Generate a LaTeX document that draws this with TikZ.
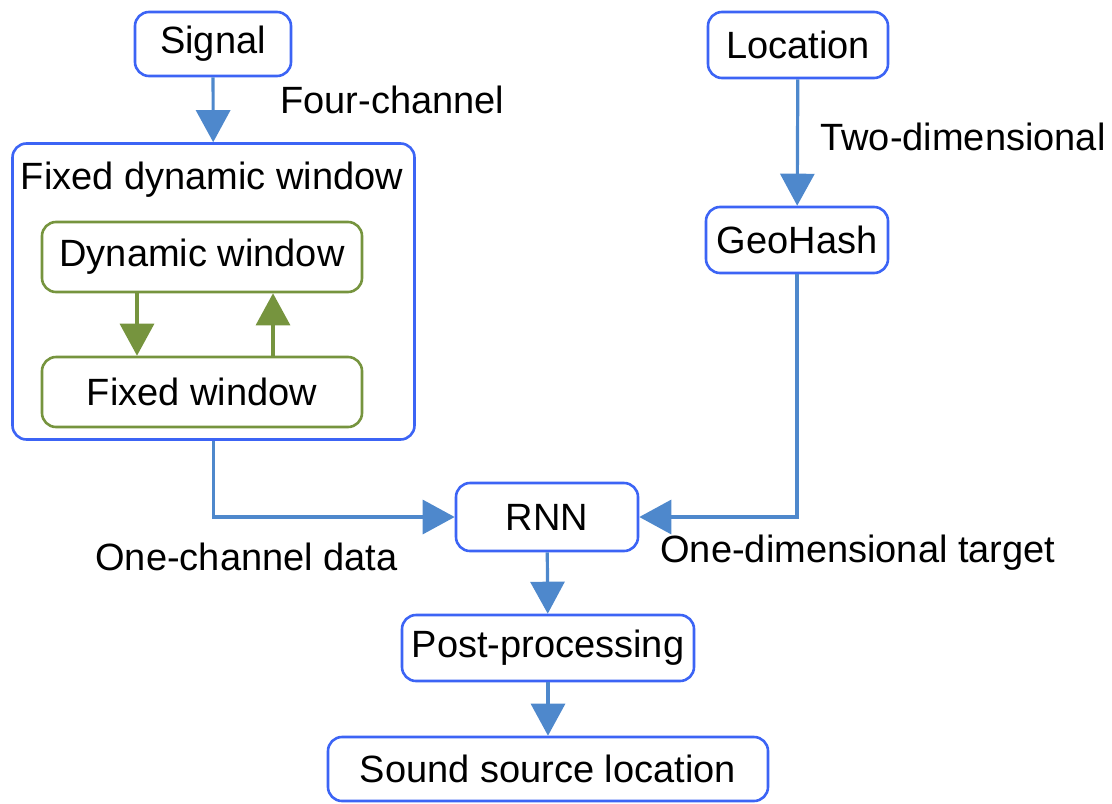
\documentclass[tikz,border=0pt]{standalone}
\usepackage{fontspec}
\setmainfont{Liberation Sans}
\usetikzlibrary{arrows.meta,positioning}
\definecolor{boxblue}{RGB}{60,100,245}
\definecolor{arrblue}{RGB}{78,136,204}
\definecolor{wingreen}{RGB}{118,148,62}
\tikzset{
    %Define standard arrow tip
    >={Triangle[length=16pt,width=17pt]},
    %Define style for boxes
    block/.style={
           rectangle,
           rounded corners=7pt,
           draw=boxblue, line width=1.3pt,
           font=\fontsize{19}{22}\selectfont,
           text centered,
           inner sep=0pt},
    winbox/.style={
           block,
           draw=wingreen},
    lbl/.style={
           font=\fontsize{19}{22}\selectfont,
           inner sep=0pt,
           anchor=west},
    % Define arrow style
    pil/.style={
           ->,
           draw=arrblue,
           line width=1.6pt},
    gpil/.style={
           pil,
           draw=wingreen}
}
\begin{document}
\begin{tikzpicture}[x=0.5pt,y=-0.5pt]
\useasboundingbox (0,0) rectangle (1112,803);

\node[block, minimum width=78pt, minimum height=32pt](signal) at (213,44){Signal};
\node[block, minimum width=90pt, minimum height=33pt](loc) at (798,45){Location};
\node[block, minimum width=91pt, minimum height=33pt](geo) at (797,240){GeoHash};

\node[block, minimum width=201pt, minimum height=148pt](fdw) at (213.5,291.5){};
\node[lbl, anchor=center](fdwtxt) at (212,180){Fixed dynamic window};
\node[winbox, minimum width=160pt, minimum height=35pt](dyn) at (202,257){Dynamic window};
\node[winbox, minimum width=160pt, minimum height=35pt](fix) at (202,392){Fixed window};

\node[block, minimum width=91pt, minimum height=34pt](rnn) at (547,517){RNN};
\node[block, minimum width=146pt, minimum height=33pt](post) at (548,648){Post-processing};
\node[block, minimum width=220pt, minimum height=32pt](sound) at (548,769){Sound source location};

\node[lbl](fourch) at (280,100){Four-channel};
\node[lbl](twodim) at (820,137){Two-dimensional};
\node[lbl](onech) at (95,557){One-channel data};
\node[lbl](onedim) at (660,553){One-dimensional target};

\draw[pil] (signal) -- (fdw);
\draw[pil] (loc) -- (geo);
\draw[gpil] (dyn.south -| 137,0) -- (fix.north -| 137,0);
\draw[gpil] (fix.north -| 273,0) -- (dyn.south -| 273,0);
\draw[pil] (fdw.south) |- (rnn.west);
\draw[pil] (geo.south) |- (rnn.east);
\draw[pil] (rnn) -- (post);
\draw[pil] (post) -- (sound);
\end{tikzpicture}
\end{document}
